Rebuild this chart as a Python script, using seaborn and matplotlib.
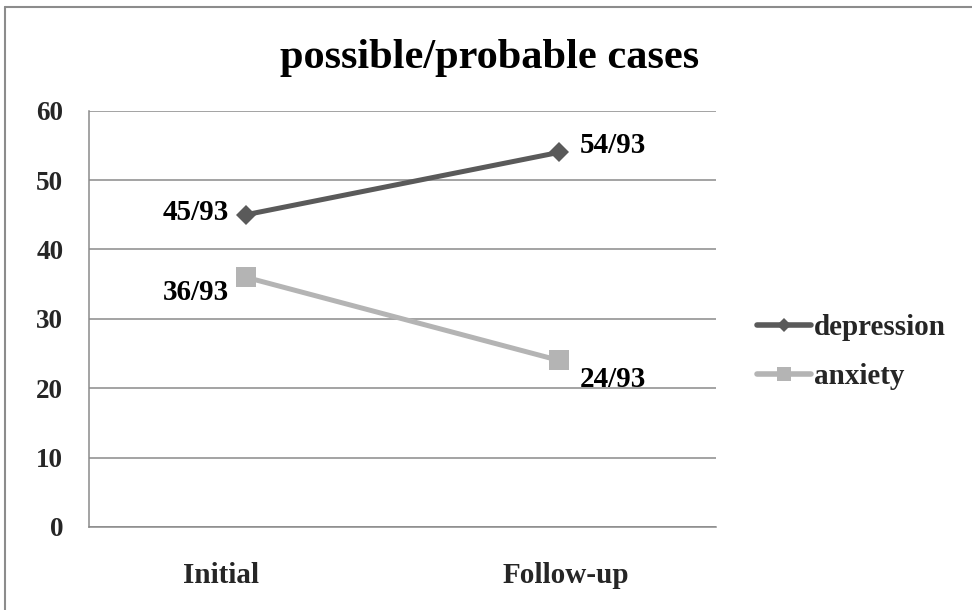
import matplotlib
matplotlib.use("Agg")
import matplotlib.pyplot as plt
from matplotlib.lines import Line2D
from matplotlib.transforms import ScaledTranslation
import seaborn as sns
import pandas as pd

# Data
categories = ["Initial", "Follow-up"]
depression = [45, 54]
anxiety = [36, 24]
total = 93
series_names = ["depression", "anxiety"]
title = "possible/probable cases"
y_ticks = [0, 10, 20, 30, 40, 50, 60]

sns.set_theme(style="white")
plt.rcParams["font.family"] = ["Liberation Serif", "DejaVu Serif"]
plt.rcParams["font.weight"] = "bold"

dark = "#5a5a5a"
light = "#b4b4b4"
grid_c = "#8a8a8a"

df = pd.DataFrame({
    "time": categories * 2,
    "pos": [0, 1, 0, 1],
    "value": depression + anxiety,
    "series": [series_names[0]] * 2 + [series_names[1]] * 2,
})

W, H = 972, 610
fig = plt.figure(figsize=(W / 100, H / 100), dpi=100)
ax = fig.add_axes([89 / W, 1 - 527 / H, (716 - 89) / W, (527 - 110.7) / H])

styles = {
    "depression": dict(color=dark, marker="D", ms=10.5),
    "anxiety": dict(color=light, marker="s", ms=14),
}
for name in series_names:
    sub = df[df["series"] == name]
    st = styles[name]
    sns.lineplot(data=sub, x="pos", y="value", ax=ax, color=st["color"],
                 marker=st["marker"], markersize=st["ms"], markeredgewidth=0,
                 linewidth=3.6, sort=False, legend=False, zorder=3)

ax.set_xlim(-0.5, 1.5)
ax.set_ylim(0, 60)
ax.set_yticks(y_ticks)
ax.set_xticks([0, 1])
ax.set_xticklabels(categories, fontsize=21, fontweight="bold")
ax.set_yticklabels([str(t) for t in y_ticks], fontsize=19.5, fontweight="bold")
ax.set_xlabel("")
ax.set_ylabel("")
ax.tick_params(axis="y", length=0, pad=18.5)
ax.tick_params(axis="x", length=0, pad=25)

# nudge category labels to their printed positions
for lbl, dx in zip(ax.get_xticklabels(), [-25, 7]):
    lbl.set_transform(lbl.get_transform() + ScaledTranslation(dx / 100, 0, fig.dpi_scale_trans))

ax.grid(axis="y", color=grid_c, linewidth=1.1)
ax.grid(axis="x", visible=False)
for side in ["top", "right"]:
    ax.spines[side].set_visible(False)
for side in ["left", "bottom"]:
    ax.spines[side].set_color(grid_c)
    ax.spines[side].set_linewidth(1.1)

# value labels (offsets in pixels relative to each point)
label_offsets = {
    ("depression", 0): (-17, -5, "right"),
    ("depression", 1): (20, -1, "left"),
    ("anxiety", 0): (-17, -23, "right"),
    ("anxiety", 1): (20, -27, "left"),
}
for name, vals in zip(series_names, [depression, anxiety]):
    for i, v in enumerate(vals):
        dx, dy, ha = label_offsets[(name, i)]
        ax.annotate(f"{v}/{total}", xy=(i, v), xytext=(dx * 0.72, dy * 0.72),
                    textcoords="offset points", ha=ha, va="baseline",
                    fontsize=21, fontweight="bold", color="black", zorder=4)

# title
fig.text(490 / W, 1 - 68 / H, title, ha="center", va="baseline",
         fontsize=30.5, fontweight="bold", color="black")

# legend
handles = [
    Line2D([], [], color=dark, lw=4, marker="D", ms=7.5, markeredgewidth=0),
    Line2D([], [], color=light, lw=4, marker="s", ms=9.5, markeredgewidth=0),
]
fig.legend(handles, series_names, loc="center left",
           bbox_to_anchor=(757 / W, 1 - 352 / H), frameon=False,
           handlelength=1.85, handletextpad=0.1,
           labelspacing=0.75, borderpad=0, borderaxespad=0,
           prop={"weight": "bold", "size": 21})

# outer chart frame (left and top edges)
fig.add_artist(Line2D([5 / W, 5 / W], [0, 1 - 7 / H], transform=fig.transFigure,
                      color="#8c8c8c", lw=1.5))
fig.add_artist(Line2D([5 / W, 1], [1 - 7 / H, 1 - 7 / H], transform=fig.transFigure,
                      color="#8c8c8c", lw=1.5))

fig.savefig("out.png", dpi=100, facecolor="white")
